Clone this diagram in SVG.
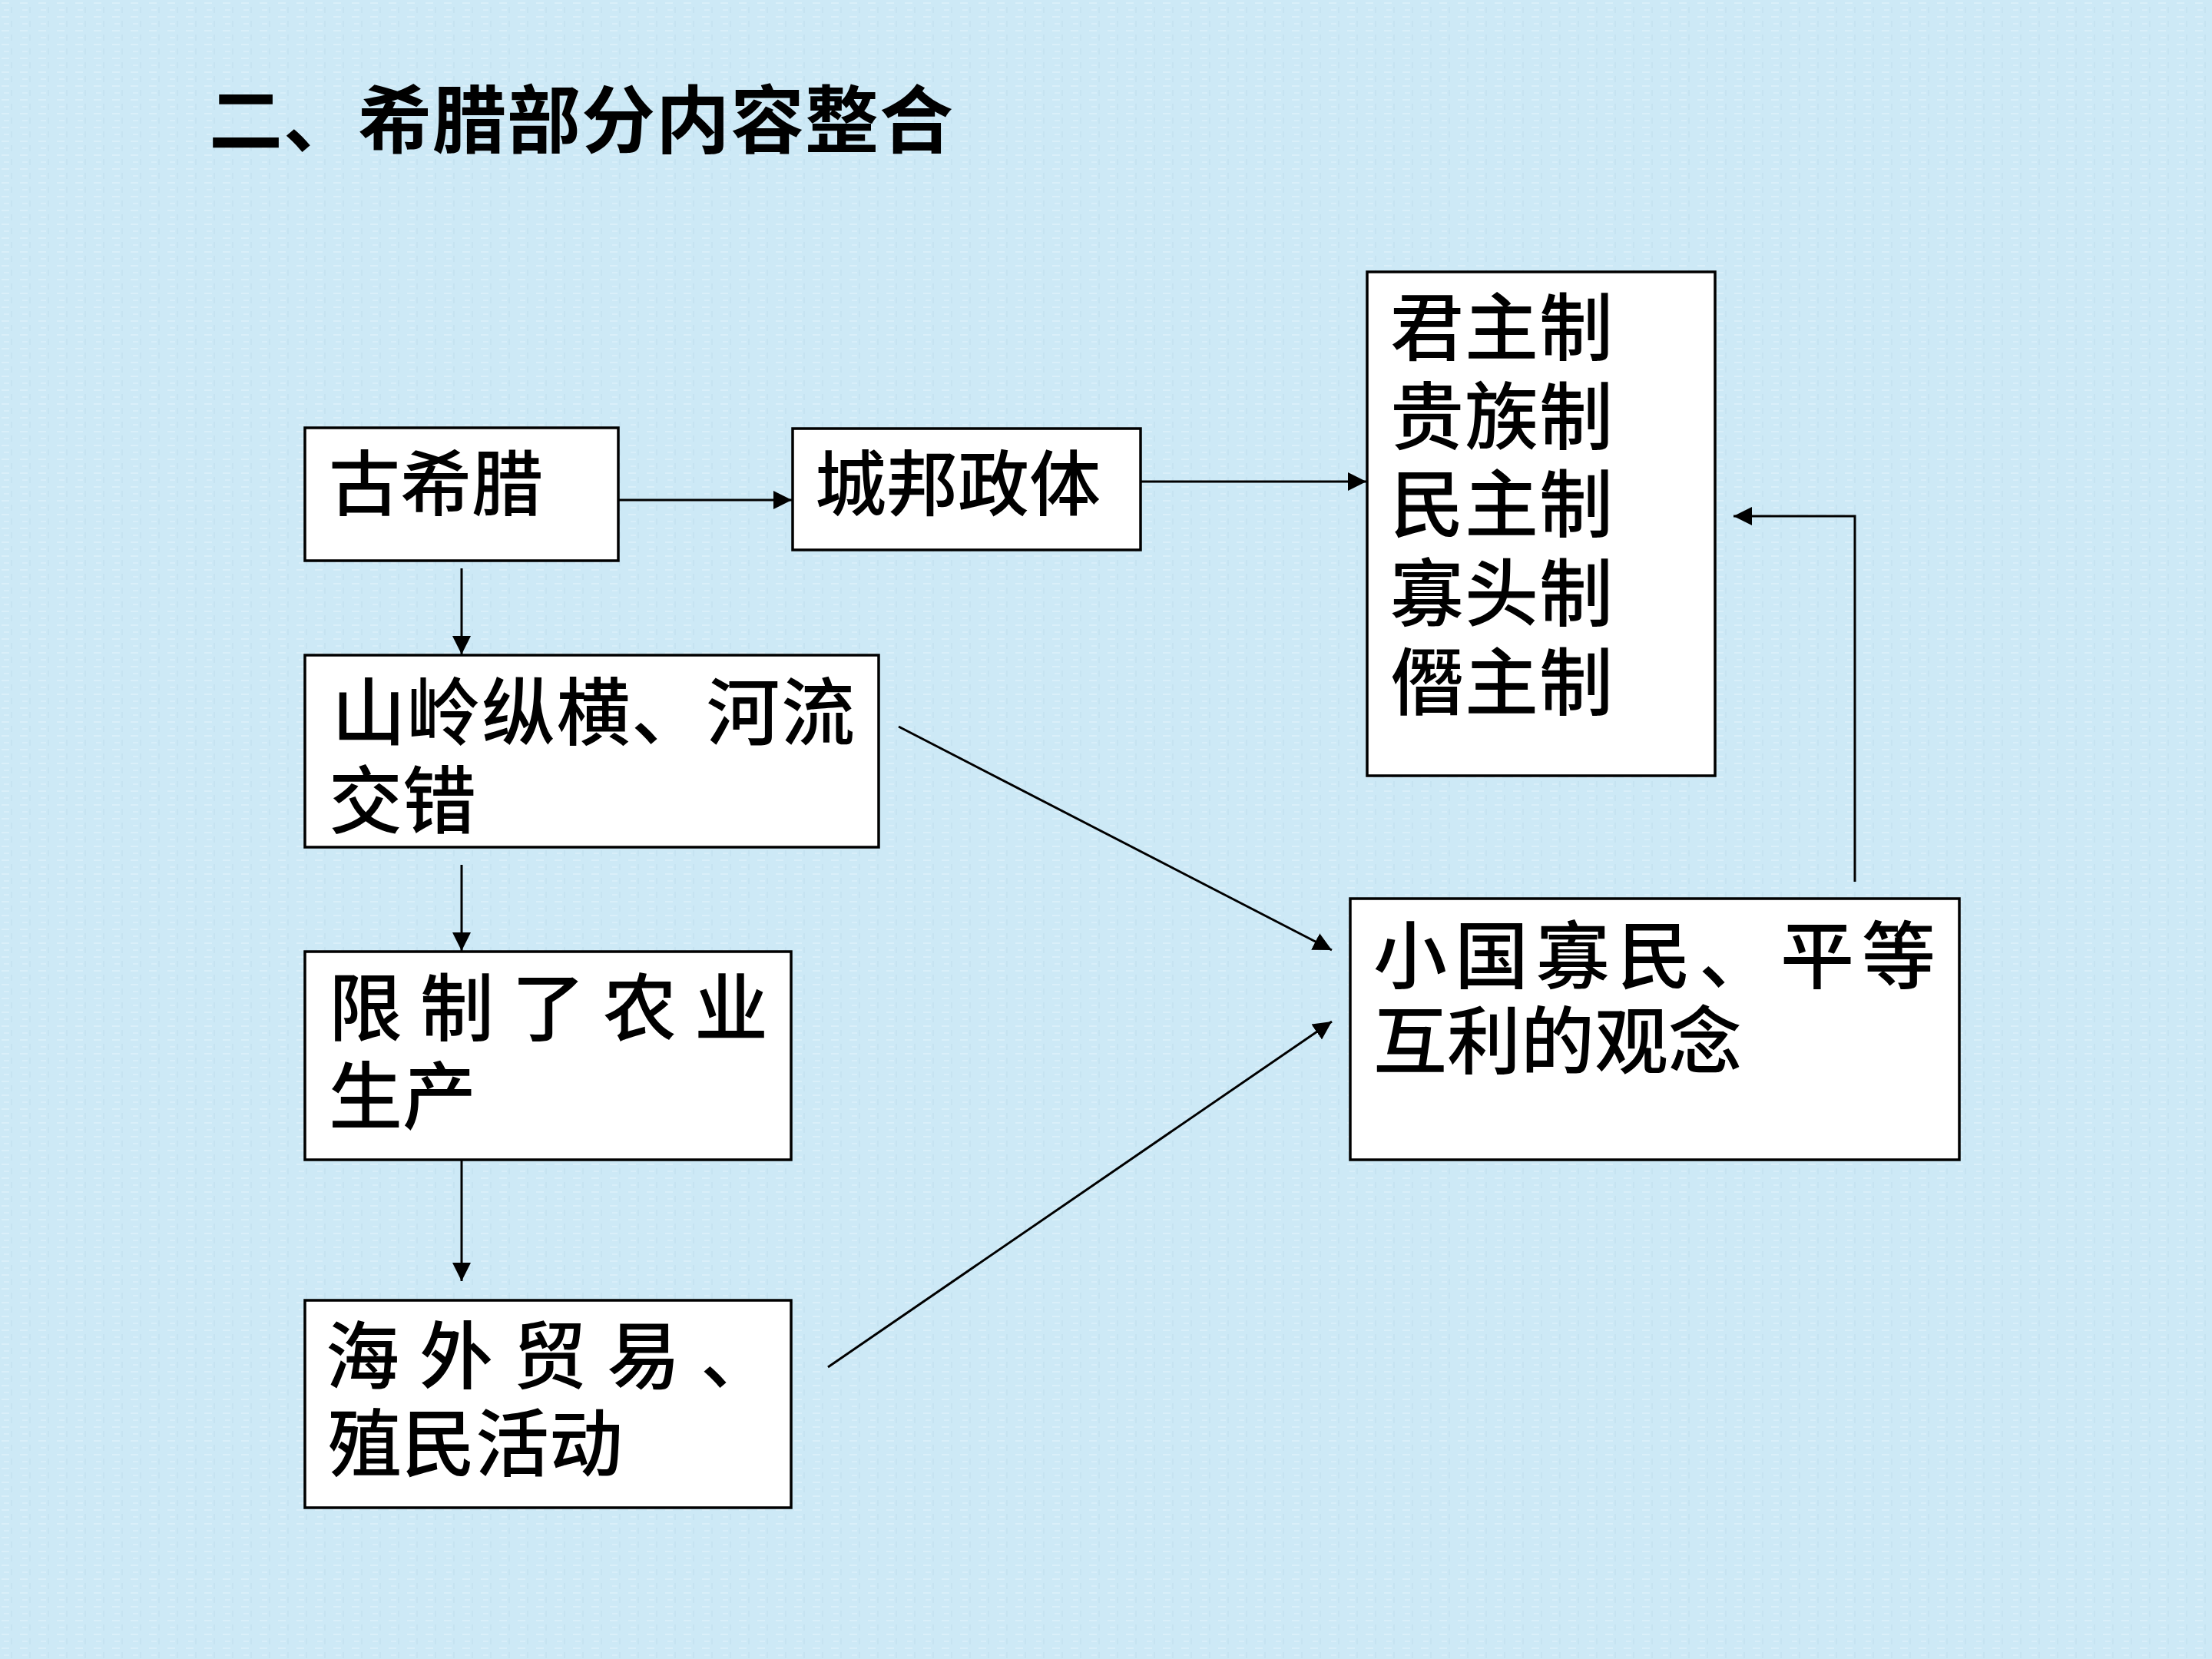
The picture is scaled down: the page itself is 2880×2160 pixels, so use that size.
<svg xmlns="http://www.w3.org/2000/svg" width="2880" height="2160" viewBox="0 0 2880 2160">
<defs>
<style>
.bg{fill:#cde9f6}
.box{fill:#ffffff;stroke:#000000;stroke-width:3.5}
.t{font-family:"Liberation Sans","Noto Sans CJK SC","Noto Sans CJK TC",sans-serif;font-size:96px;font-weight:500;fill:#000000}
.title{font-family:"Liberation Sans","Noto Sans CJK SC","Noto Sans CJK TC",sans-serif;font-size:96px;font-weight:600;fill:#000000;letter-spacing:1px}
.c{fill:none;stroke:#000000;stroke-width:3;marker-end:url(#ah)}
</style>
<pattern id="tex" width="24" height="18" patternUnits="userSpaceOnUse">
<rect width="24" height="18" fill="#cde9f6"/>
<rect x="2" y="3" width="10" height="2" fill="#e0f3fb" opacity="0.7"/>
<rect x="14" y="9" width="2" height="8" fill="#c2e0ee" opacity="0.6"/>
<rect x="5" y="12" width="7" height="2" fill="#dff2fb" opacity="0.6"/>
</pattern>
<marker id="ah" viewBox="0 0 24 24" refX="24" refY="12" markerWidth="24" markerHeight="24" markerUnits="userSpaceOnUse" orient="auto">
<path d="M0,0 L24,12 L0,24 z" fill="#000000"/>
</marker>
</defs>
<rect class="bg" x="0" y="0" width="2880" height="2160"/>
<rect x="0" y="0" width="2880" height="2160" fill="url(#tex)"/>
<text class="title" x="272" y="191">二、希腊部分内容整合</text>

<g id="connectors">
<line class="c" x1="805" y1="651" x2="1031" y2="651"/>
<line class="c" x1="1485" y1="627" x2="1779" y2="627"/>
<line class="c" x1="601" y1="740" x2="601" y2="852"/>
<line class="c" x1="601" y1="1126" x2="601" y2="1238"/>
<line class="c" x1="601" y1="1510" x2="601" y2="1668"/>
<line class="c" x1="1170" y1="946" x2="1734" y2="1237"/>
<line class="c" x1="1078" y1="1780" x2="1734" y2="1330"/>
<polyline class="c" points="2415,1148 2415,672 2257,672"/>
</g>

<g id="n-gxl">
<rect class="box" x="397" y="557" width="408" height="173"/>
<text class="t" x="428" y="664" style="font-size:93px">古希腊</text>
</g>
<g id="n-cbzt">
<rect class="box" x="1032" y="558" width="453" height="158"/>
<text class="t" x="1061" y="664" style="font-size:93px">城邦政体</text>
</g>
<g id="n-zhengti">
<rect class="box" x="1780" y="354" width="453" height="656"/>
<text class="t" style="letter-spacing:1px"><tspan x="1810" y="461">君主制</tspan><tspan x="1810" y="577">贵族制</tspan><tspan x="1810" y="691">民主制</tspan><tspan x="1810" y="807">寡头制</tspan><tspan x="1810" y="923">僭主制</tspan></text>
</g>
<g id="n-shanling">
<rect class="box" x="397" y="853" width="747" height="250"/>
<text class="t"><tspan x="432" y="962" style="letter-spacing:1.5px">山岭纵横、河流</tspan><tspan x="428" y="1077">交错</tspan></text>
</g>
<g id="n-xianzhi">
<rect class="box" x="397" y="1239" width="633" height="271"/>
<text class="t"><tspan x="428 547 666 785 904" y="1347">限制了农业</tspan><tspan x="428" y="1462">生产</tspan></text>
</g>
<g id="n-haiwai">
<rect class="box" x="397" y="1693" width="633" height="270"/>
<text class="t"><tspan x="424 546 668 790 912" y="1800">海外贸易、</tspan><tspan x="427" y="1914">殖民活动</tspan></text>
</g>
<g id="n-xiaoguo">
<rect class="box" x="1758" y="1170" width="793" height="340"/>
<text class="t"><tspan x="1788 1894 2000 2106 2212 2318 2424" y="1279">小国寡民、平等</tspan><tspan x="1788" y="1390">互利的观念</tspan></text>
</g>
</svg>
